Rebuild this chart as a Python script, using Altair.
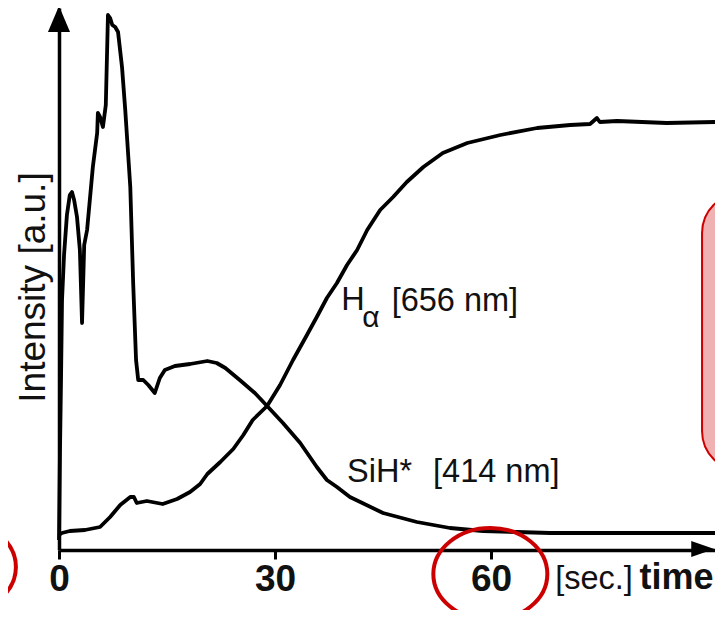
import altair as alt
import pandas as pd

# ---- data (time in s, intensity in a.u.) ----
sih_t = [0, 0.14, 0.28, 0.42, 0.7, 1.1, 1.5, 1.8, 2.1, 2.5, 2.9, 3.2, 3.5, 3.9, 4.7, 5.3, 5.4,
         5.7, 6.1, 6.5, 6.8, 7.1, 7.4, 7.8, 8.2, 8.75, 9.2, 9.9, 10.3, 10.7, 11.0, 11.7, 12.4,
         13.3, 14.0, 14.7, 16.1, 18.2, 20.6, 21.9, 23.1, 25.1, 27.2, 28.9, 31.1, 33.5, 35.8,
         37.2, 38.6, 40.4, 45.0, 49.7, 54.3, 58.9, 68.2, 77.9, 91.1]
sih_v = [2, 20, 34, 50, 59, 67, 71, 71.6, 70, 66.6, 60, 45.4, 61, 64, 76.6, 83.4, 87.4,
         86.6, 84.6, 89, 107, 106.4, 105, 104.6, 103.6, 96.6, 88, 72.6, 53.4, 38, 34, 34, 33,
         31.4, 34.4, 36, 36.8, 37.2, 37.8, 37.4, 36.4, 34, 31.4, 28.8, 25.4, 21.4, 16.6,
         14, 12.6, 10.6, 7.4, 5.6, 4.4, 3.8, 3.4, 3.4, 3.4]

ha_t = [0, 0.4, 1.5, 3.6, 5.7, 7.1, 8.5, 9.9, 10.4, 10.8, 12.2, 14.4, 16.4, 18.2, 19.6, 20.6,
        22.4, 24.2, 25.6, 26.9, 28.9, 30.7, 32.5, 34.2, 35.8, 37.2, 38.6, 40.0, 41.4, 42.8,
        44.6, 46.4, 48.3, 50.6, 53.3, 56.7, 61.3, 66.4, 71.0, 73.75, 74.7, 75.1, 77.5, 84.4, 91.1]
ha_v = [3, 3.4, 3.8, 4, 4.6, 6.6, 9, 10.6, 10.6, 9.4, 9.8, 9.2, 10.2, 11.6, 13.2, 15.2,
        17.6, 20.2, 23, 26, 28.8, 33, 38, 42.4, 46.6, 50.4, 53.4, 57, 60, 64,
        68, 70.6, 73.6, 76.6, 79.4, 81.4, 83, 84.4, 85, 85.2, 86.4, 85.6, 85.8, 85.4, 85.6]

x_ticks = [0, 30, 60]
x_domain = [0, 91.1]
y_domain = [0, 108.4]

FONT = "Liberation Sans"
INK = "#111111"
RED = "#cc0000"

lines_df = pd.concat([
    pd.DataFrame({"t": sih_t, "v": sih_v, "series": "SiH*"}),
    pd.DataFrame({"t": ha_t, "v": ha_v, "series": "Halpha"}),
])

xs = alt.Scale(domain=x_domain, nice=False, zero=False)
ys = alt.Scale(domain=y_domain, nice=False, zero=False)

x_axis = alt.Axis(values=x_ticks, grid=False, title=None, domainColor="black", domainWidth=3.5,
                  tickColor="black", tickWidth=3, tickSize=9, labelFont=FONT, labelFontSize=37,
                  labelFontWeight="bold", labelColor=INK, labelPadding=2, labelFlush=False,
                  format="d")
y_axis = alt.Axis(grid=False, ticks=False, labels=False, domainColor="black", domainWidth=3.5,
                  title="Intensity [a.u.]", titleFont=FONT, titleFontSize=37,
                  titleFontWeight="normal", titleColor=INK, titleAngle=270,
                  titleBaseline="alphabetic", titleAlign="center", titleX=-15, titleY=279)

lines = alt.Chart(lines_df).mark_line(color="black", strokeWidth=3.8, strokeJoin="round").encode(
    x=alt.X("t:Q", scale=xs, axis=x_axis),
    y=alt.Y("v:Q", scale=ys, axis=y_axis),
    detail="series:N",
)

# rounded red box at right edge
box_df = pd.DataFrame({"x": [89.3], "x2": [110], "y": [71.4], "y2": [15.8]})
box = alt.Chart(box_df).mark_rect(cornerRadius=40, fill="#efb1b1", stroke=RED, strokeWidth=2).encode(
    x=alt.X("x:Q", scale=xs), x2="x2:Q", y=alt.Y("y:Q", scale=ys), y2="y2:Q")

# red ellipses
k, b = 0.5523, 0.807
kb = k * b
ELLIPSE = (f"M1,0 C1,{kb} {k},{b} 0,{b} C{-k},{b} -1,{kb} -1,0 "
           f"C-1,{-kb} {-k},{-b} 0,{-b} C{k},{-b} 1,{-kb} 1,0 Z")
ell_df = pd.DataFrame({"t": [59.9, -13.9], "v": [-4.8, -3.4]})
ellipses = alt.Chart(ell_df).mark_point(shape=ELLIPSE, size=12996, filled=False, stroke=RED,
                                        strokeWidth=4, opacity=1).encode(
    x=alt.X("t:Q", scale=xs), y=alt.Y("v:Q", scale=ys))

# axis arrowheads
up_df = pd.DataFrame({"t": [0], "v": [106.2]})
up_arrow = alt.Chart(up_df).mark_point(shape="M0,-1 L0.85,1 L-0.85,1 Z", size=676, filled=True,
                                       color="black", opacity=1, strokeWidth=0).encode(
    x=alt.X("t:Q", scale=xs), y=alt.Y("v:Q", scale=ys))
right_df = pd.DataFrame({"t": [89.4], "v": [0.2]})
right_arrow = alt.Chart(right_df).mark_point(shape="M1,0 L-1,-0.7 L-1,0.7 Z", size=529, filled=True,
                                             color="black", opacity=1, strokeWidth=0).encode(
    x=alt.X("t:Q", scale=xs), y=alt.Y("v:Q", scale=ys))

# text annotations
ann_text = ["H", "[656 nm]", "SiH*", "[414 nm]", "[sec.]"]
ann_t = [39.2, 46.2, 40.0, 51.95, 68.9]
ann_v = [48.0, 47.8, 13.6, 13.6, -7.8]
ann_df = pd.DataFrame({"label": ann_text, "t": ann_t, "v": ann_v})
ann = alt.Chart(ann_df).mark_text(font=FONT, fontSize=32.5, color=INK, align="left",
                                  baseline="alphabetic").encode(
    x=alt.X("t:Q", scale=xs), y=alt.Y("v:Q", scale=ys), text="label:N")

alpha_df = pd.DataFrame({"label": ["α"], "t": [42.1], "v": [44.6]})
alpha = alt.Chart(alpha_df).mark_text(font=FONT, fontSize=30, color=INK, align="left",
                                      baseline="alphabetic").encode(
    x=alt.X("t:Q", scale=xs), y=alt.Y("v:Q", scale=ys), text="label:N")

time_df = pd.DataFrame({"label": ["time"], "t": [80.6], "v": [-7.8]})
time_lbl = alt.Chart(time_df).mark_text(font=FONT, fontSize=36, fontWeight="bold", color=INK,
                                        align="left", baseline="alphabetic").encode(
    x=alt.X("t:Q", scale=xs), y=alt.Y("v:Q", scale=ys), text="label:N")

chart = alt.layer(box, lines, up_arrow, right_arrow, ann, alpha, time_lbl, ellipses).properties(
    width=656, height=542,
    padding={"left": 51, "top": 0, "right": 0, "bottom": 60},
    autosize="none",
    background="white",
).configure_view(stroke=None)

chart.save("out.html", embed_options={"renderer": "svg", "actions": False})
